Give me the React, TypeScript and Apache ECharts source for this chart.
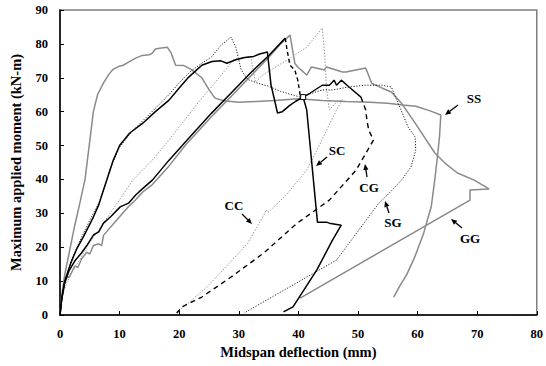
import React, { useEffect, useRef } from "react";
import * as echarts from "echarts";

// x: midspan deflection (mm), y: maximum applied moment (kN-m)
const xTicks = [0, 10, 20, 30, 40, 50, 60, 70, 80];
const yTicks = [0, 10, 20, 30, 40, 50, 60, 70, 80, 90];

const SS: number[][] = [
  [0, 0], [0.3, 6], [0.8, 12], [1.5, 18], [2.3, 25], [3.2, 32], [4.2, 40], [4.9, 50], [5.6, 60],
  [6.3, 65], [7.3, 68.5], [8.2, 71], [8.9, 72.5], [9.8, 73.3], [10.6, 73.7], [11.5, 74.6],
  [12.7, 75.8], [13.8, 76.6], [15, 76.8], [15.5, 77.3], [16, 78.5], [17, 78.8], [18, 79],
  [18.6, 77.5], [19.4, 73.7], [20.8, 73.6], [22, 72.5], [23.8, 70], [25, 66.5], [26, 64],
  [27.5, 63.2], [30, 62.8], [33, 63], [36, 63.3], [40, 63.8], [44, 63.3], [48, 63], [52, 62.8],
  [55, 62.5], [57.5, 62], [59.7, 61.6], [62, 60.3], [63.9, 59], [63.7, 53], [63.4, 47.8],
  [62.9, 40], [62.3, 32], [61, 24], [59.5, 17], [58.2, 12], [57, 8.5], [56, 5.3],
];

const GG: number[][] = [
  [0, 0], [0.3, 5], [0.7, 9], [1.2, 11.5], [1.5, 11], [2.5, 14.5], [3, 14], [3.6, 16.5],
  [4.5, 18.5], [5, 18], [5.6, 20.5], [6.5, 21], [7, 20.5], [7.3, 23.5], [8.5, 26], [10, 29],
  [11.5, 32], [12.7, 34], [14, 36.5], [15.5, 38.5], [18.3, 44], [21, 50], [25.4, 58.5],
  [29, 65], [32, 70.5], [35, 76], [37, 80], [38.6, 82.6], [39.4, 74.3], [39.9, 73.2],
  [41.4, 70.8], [42.2, 73.2], [44.4, 72.3], [44.7, 73.2], [47.4, 71.7], [48, 71.7],
  [51.3, 72.9], [52.3, 68.4], [54, 67], [55.6, 65.8], [57.3, 62.5], [59.6, 56.6],
  [62.9, 47.8], [64.8, 44.5], [66.7, 41.9], [69.5, 39.8], [72, 37.2], [68.8, 36.9],
  [68.8, 33.9], [40.3, 5],
];

const SC: number[][] = [
  [0, 0], [0.2, 3.5], [0.8, 10], [1.8, 15.3], [2.8, 19.5], [3.9, 23], [5.6, 28.9], [6.5, 32.5],
  [7.3, 36.9], [8.4, 42.8], [8.9, 45.5], [10, 50], [11.7, 53.7], [13.9, 56.6], [16, 60],
  [18.3, 63.4], [20, 67], [21.6, 70.2], [23.8, 73.7], [25.5, 74.8], [27, 75], [28, 74.3],
  [29.5, 75.3], [31, 76], [32.5, 76.3], [33.5, 77], [34.8, 77.6], [35.4, 68], [36.5, 59.6],
  [37.3, 60], [38.5, 61.8], [39.5, 63], [40.8, 64.3], [41.4, 60.5], [43.2, 27.4], [44.7, 27.4],
  [45.2, 27.1], [47.2, 26.5], [45.7, 22], [43.1, 13.3], [39.1, 2.4], [37.5, 0.9],
];

const CGload: number[][] = [
  [0, 0], [0.3, 5], [0.7, 9], [1.5, 13], [2.5, 16], [3.6, 18.3], [4.5, 20.5], [5.6, 23.6],
  [6.5, 24.5], [7.3, 27.1], [8.5, 29], [10.1, 31.9], [11.5, 33], [12.7, 35.4], [14, 37.5],
  [15.5, 39.8], [18.3, 45.7], [21, 51], [25.4, 59.5], [29, 66], [32, 71.5], [35, 76.5],
  [37.8, 81.7],
];
const CGdrop: number[][] = [
  [37.8, 81.7], [38.1, 78.2], [38.6, 73.7], [39.4, 72.3], [39.9, 69.3], [40.3, 64.9], [40.8, 64.3],
];
const CGreload: number[][] = [
  [40.8, 64.3], [42, 65.5], [44, 67.8], [45.2, 67.8], [46, 69.3], [46.4, 67.8], [47.2, 69.3],
  [48.5, 67.3], [50.5, 64.3],
];
const CGunload: number[][] = [
  [50.5, 64.3], [51.3, 60.5], [51.5, 57.5], [51.8, 54.6], [52.6, 51.6], [52.3, 50.7],
  [49.7, 42.8], [45.2, 33.9], [39.8, 27.1], [34.2, 18.3], [28.7, 11.2], [23.8, 5.3],
  [20.5, 2.4], [19.6, 0.6],
];

const SG: number[][] = [
  [0, 0], [0.3, 5], [1, 11], [2, 16.5], [3.5, 22.5], [5, 28], [6.5, 33], [7.5, 38], [8.5, 43.5],
  [10, 49.5], [12, 54], [14, 57.5], [16, 61], [18, 64.5], [20, 68.5], [22, 72], [23.8, 74.3],
  [25.4, 76.1], [27, 79.6], [28.7, 82], [29.5, 79], [30.4, 72.3], [31.5, 69.5], [33, 68.5],
  [35, 67.5], [37, 66], [40.3, 64.3], [44, 66.4], [45.7, 66.4], [48.5, 67.3], [51.3, 67.8],
  [54, 67.8], [55.6, 67.3], [56.3, 64.3], [58.4, 55.5], [59.6, 52.5], [59.7, 48.7],
  [58.9, 43.7], [57.3, 39.8], [55, 35.5], [53.5, 33], [46.4, 16.2], [30.9, 0.6],
];

const CC: number[][] = [
  [0, 0], [0.3, 5], [1, 9], [2, 12.5], [3.5, 17], [5, 21.5], [6.5, 25], [8, 29], [10, 34],
  [12.2, 39.8], [15.5, 45.7], [18, 51], [20, 55.5], [23.8, 64], [26, 68.5], [29.2, 75.5],
  [32, 76.3], [32.8, 68.7], [34, 70.8], [36, 73], [38.1, 75.2], [41.4, 79], [44, 84.7],
  [44.4, 77.3], [44.7, 67.3], [45.2, 60.5], [46.2, 62.5], [47.4, 63.6], [46.4, 60.5],
  [43.5, 50], [41.4, 42.8], [38, 35.5], [34.9, 30.2], [34.6, 31], [34.2, 29.5], [31.5, 21.2],
  [28, 14.5], [24.5, 8], [21.5, 3.5], [19.3, 0.5],
];

const FONT = "'Liberation Serif', 'Times New Roman', serif";

function arrow(x1: number, y1: number, x2: number, y2: number): any[] {
  const dx = x2 - x1;
  const dy = y2 - y1;
  const len = Math.sqrt(dx * dx + dy * dy);
  const ux = dx / len;
  const uy = dy / len;
  const hl = 6;
  const hw = 2.6;
  const bx = x2 - ux * hl;
  const by = y2 - uy * hl;
  return [
    {
      type: "line",
      shape: { x1, y1, x2: bx, y2: by },
      style: { stroke: "#000", lineWidth: 1.3 },
      z: 100,
    },
    {
      type: "polygon",
      shape: {
        points: [
          [x2, y2],
          [bx - uy * hw, by + ux * hw],
          [bx + uy * hw, by - ux * hw],
        ],
      },
      style: { fill: "#000" },
      z: 100,
    },
  ];
}

function label(text: string, x: number, y: number): any {
  return {
    type: "text",
    x,
    y,
    z: 100,
    style: {
      text,
      fill: "#000",
      font: `bold 13px ${FONT}`,
      align: "center",
      verticalAlign: "middle",
    },
  };
}

function line(name: string, data: any[], color: string, type: any, width: number, z = 2): any {
  return {
    name,
    type: "line",
    data,
    symbol: "none",
    showSymbol: false,
    lineStyle: { color, type, width },
    z,
    silent: true,
  };
}

export default function App() {
  const ref = useRef<HTMLDivElement>(null);
  useEffect(() => {
    if (!ref.current) return;
    const chart = echarts.init(ref.current, null, { renderer: "svg" });
    const scData: any[] = SC.map((p) =>
      p[0] === 40.8 && p[1] === 64.3
        ? { value: p, symbol: "rect", symbolSize: 5, itemStyle: { color: "#fff", borderColor: "#000", borderWidth: 1 } }
        : p
    );
    const scSeries = line("SC", scData, "#000", "solid", 1.5, 5);
    scSeries.showSymbol = true;
    chart.setOption({
      animation: false,
      backgroundColor: "#fff",
      grid: {
        left: 56,
        right: 4,
        top: 10,
        bottom: 51,
        show: true,
        borderColor: "#7f7f7f",
        borderWidth: 1.5,
        backgroundColor: "transparent",
      },
      xAxis: {
        type: "value",
        min: xTicks[0],
        max: xTicks[xTicks.length - 1],
        interval: 10,
        name: "Midspan deflection (mm)",
        nameLocation: "middle",
        nameGap: 29,
        nameTextStyle: { fontFamily: FONT, fontWeight: "bold", fontSize: 14.5, color: "#000" },
        axisLine: { show: true, lineStyle: { color: "#000", width: 1.5 } },
        axisTick: { show: true, inside: true, length: 4, lineStyle: { color: "#000" } },
        axisLabel: { fontFamily: FONT, fontWeight: "bold", fontSize: 12.5, color: "#000", margin: 12 },
        splitLine: { show: false },
      },
      yAxis: {
        type: "value",
        min: yTicks[0],
        max: yTicks[yTicks.length - 1],
        interval: 10,
        name: "Maximum applied moment (kN-m)",
        nameLocation: "middle",
        nameGap: 37,
        nameTextStyle: { fontFamily: FONT, fontWeight: "bold", fontSize: 14.5, color: "#000" },
        axisLine: { show: true, lineStyle: { color: "#000", width: 1.5 } },
        axisTick: { show: true, inside: true, length: 4, lineStyle: { color: "#000" } },
        axisLabel: { fontFamily: FONT, fontWeight: "bold", fontSize: 12.5, color: "#000", margin: 12 },
        splitLine: { show: false },
      },
      series: [
        line("SS", SS, "#8a8a8a", "solid", 1.5, 2),
        line("GG", GG, "#8a8a8a", "solid", 1.5, 2),
        line("CC", CC, "#9a9a9a", [1.5, 1.5], 1, 3),
        line("SG", SG, "#222", [1.2, 1.6], 1, 4),
        line("CG", CGload, "#000", "solid", 1.5, 5),
        line("CG", CGdrop, "#000", [4, 3], 1.4, 5),
        line("CG", CGreload, "#000", "solid", 1.4, 5),
        line("CG", CGunload, "#000", [5, 4], 1.4, 5),
        scSeries,
      ],
      graphic: [
        label("SS", 474, 98),
        ...arrow(458, 105, 445, 115),
        label("SC", 337, 150),
        ...arrow(327, 157, 316, 166),
        label("CG", 369, 187),
        ...arrow(367, 177, 365, 164),
        label("CC", 234, 205),
        ...arrow(242, 214, 252, 224),
        label("SG", 393, 222),
        ...arrow(389, 213, 385, 201),
        label("GG", 470, 238),
        ...arrow(462, 228, 451, 219),
      ],
    });
    return () => chart.dispose();
  }, []);
  return (
    <div
      ref={ref}
      style={{ position: "fixed", left: 0, top: 0, width: 546, height: 366, background: "#fff" }}
    />
  );
}
